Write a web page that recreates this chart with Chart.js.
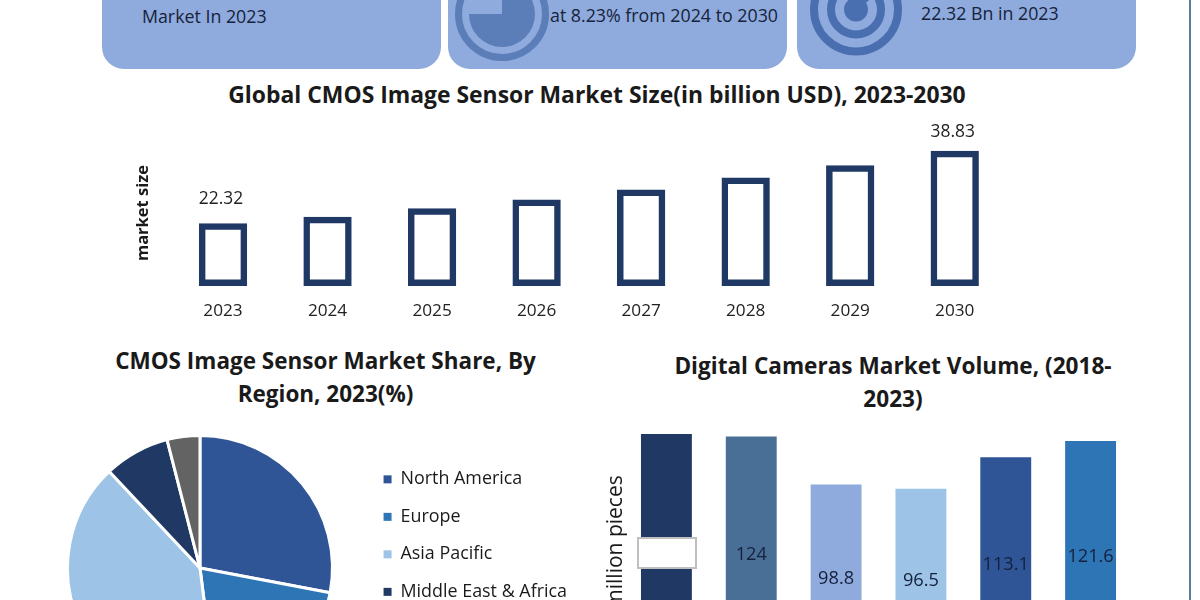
<!DOCTYPE html>
<html>
<head>
<meta charset="utf-8">
<title>CMOS Image Sensor Market</title>
<script src="https://cdn.jsdelivr.net/npm/chart.js@4"></script>
<style>
  html, body { margin: 0; width: 1200px; height: 600px; overflow: hidden; background: #fff; }
  body { position: relative; font-family: "Open Sans", sans-serif; color: #1a1a1a; }
  canvas { position: absolute; }
  .card { position: absolute; top: -40px; height: 109px; width: 339px; background: #8faadc; border-radius: 22px; }
  .cardText { position: absolute; font-size: 17.8px; line-height: 22px; white-space: nowrap; color: #16233b; }
  .heading { position: absolute; font-weight: 700; font-size: 22.5px; line-height: 33px; text-align: center; white-space: nowrap; color: #1a1a1a; }
  #hiddenValue { position: absolute; left: 637px; top: 537px; width: 56px; height: 28px; background: #fff; border: 2px solid #bfbfbf; }
  #edgeLine { position: absolute; left: 1189px; top: 0; width: 2px; height: 600px; background: #5a7ca3; }
  svg { position: absolute; left: 0; top: 0; }
</style>
</head>
<body>
<div class="card" style="left:102px"></div>
<div class="card" style="left:448px"></div>
<div class="card" style="left:797px"></div>
<div id="edgeLine"></div>
<svg width="1200" height="80">
  <circle cx="502" cy="14" r="43.5" fill="none" stroke="#5b7db8" stroke-width="7"/>
  <path d="M502 14 L502 -19 A33 33 0 1 1 469 14 Z" fill="#5b7db8"/>
  <circle cx="856" cy="9.5" r="42" fill="none" stroke="#4a6fb0" stroke-width="8"/>
  <circle cx="856" cy="9.5" r="25" fill="none" stroke="#4a6fb0" stroke-width="8"/>
  <line x1="866" y1="1" x2="892" y2="-22" stroke="#8faadc" stroke-width="9"/>
  <line x1="860" y1="6" x2="892" y2="-22" stroke="#4a6fb0" stroke-width="3"/>
  <circle cx="856" cy="9.5" r="12" fill="#4a6fb0"/>
</svg>
<div class="cardText" style="left:142px;top:5px">Market In 2023</div>
<div class="cardText" style="left:550px;top:4px">at 8.23% from 2024 to 2030</div>
<div class="cardText" style="left:921px;top:2px">22.32 Bn in 2023</div>

<div class="heading" style="left:0;width:1194px;top:78px;font-size:22.9px">Global CMOS Image Sensor Market Size(in billion USD), 2023-2030</div>
<div class="heading" style="left:0;width:651px;top:344px">CMOS Image Sensor Market Share, By<br>Region, 2023(%)</div>
<div class="heading" style="left:593px;width:600px;top:349px;font-size:22.6px">Digital Cameras Market Volume, (2018-<br>2023)</div>

<canvas id="marketChart" width="877" height="210" style="left:130px;top:120px"></canvas>
<canvas id="regionChart" width="541" height="268" style="left:36px;top:434px"></canvas>
<canvas id="volumeChart" width="533" height="262" style="left:600px;top:411px"></canvas>
<div id="hiddenValue"></div>

<script>
const marketYears = ['2023', '2024', '2025', '2026', '2027', '2028', '2029', '2030'];
const marketSize = [22.32, 23.8, 25.7, 27.7, 30.0, 32.7, 35.5, 38.83];
const marketLabels = ['22.32', '', '', '', '', '', '', '38.83'];
const marketFloor = 8;

const regions = ['North America', 'Europe', 'Asia Pacific', 'Middle East & Africa', 'South America'];
const regionShare = [28, 20, 40, 8, 4];
const regionColors = ['#2f5597', '#2e75b6', '#9dc3e6', '#1f3864', '#636363'];

const volumeYears = ['2018', '2019', '2020', '2021', '2022', '2023'];
const volumePieces = [125.2, 124, 98.8, 96.5, 113.1, 121.6];
const volumeLabels = ['', '124', '98.8', '96.5', '113.1', '121.6'];
const volumeColors = ['#1f3864', '#4a6f96', '#8faadc', '#9dc3e6', '#2f5597', '#2e75b6'];

const textFont = '"Open Sans", sans-serif';

// draws the few value labels the picture shows, next to the bars
const barLabels = {
    id: 'barLabels',
    afterDatasetsDraw(chart, args, opts) {
        const ctx = chart.ctx;
        ctx.save();
        ctx.font = `${opts.size}px ${textFont}`;
        ctx.fillStyle = opts.color;
        ctx.textAlign = 'center';
        ctx.textBaseline = 'middle';
        chart.getDatasetMeta(0).data.forEach((bar, i) => {
            if (!opts.labels[i]) return;
            const y = opts.centered ? (bar.y + bar.base) / 2 : bar.y - (i === 0 ? 24 : 18.5);
            ctx.fillText(opts.labels[i], bar.x + (opts.centered ? 0 : -2), y);
        });
        ctx.restore();
    }
};

new Chart(document.getElementById('marketChart'), {
    type: 'bar',
    data: {
        labels: marketYears,
        datasets: [{
            data: marketSize,
            base: marketFloor,
            backgroundColor: 'transparent',
            borderColor: '#1f3864',
            borderWidth: 6.5,
            borderSkipped: false,
            barPercentage: 0.462,
            categoryPercentage: 1
        }]
    },
    options: {
        responsive: false,
        animation: false,
        layout: { padding: { top: 20 } },
        plugins: {
            legend: { display: false },
            tooltip: { enabled: false },
            barLabels: { labels: marketLabels, size: 17.4, color: '#222', centered: false }
        },
        scales: {
            x: {
                grid: { display: false },
                border: { display: false },
                ticks: { color: '#222', font: { family: textFont, size: 17.2 }, padding: 7, maxRotation: 0 },
                afterFit: scale => { scale.height = 44; }
            },
            y: {
                min: marketFloor,
                max: 41.26,
                grid: { display: false },
                border: { display: false },
                ticks: { display: false },
                title: { display: true, text: 'market size', color: '#1a1a1a', font: { family: textFont, size: 16.5, weight: 'bold' }, padding: { top: 3.5, bottom: 0 } },
                afterFit: scale => { scale.width = 40.75; }
            }
        }
    },
    plugins: [barLabels]
});

new Chart(document.getElementById('regionChart'), {
    type: 'pie',
    data: {
        labels: regions,
        datasets: [{
            data: regionShare,
            backgroundColor: regionColors,
            borderColor: '#fff',
            borderWidth: 3
        }]
    },
    options: {
        responsive: false,
        animation: false,
        plugins: {
            tooltip: { enabled: false },
            legend: {
                position: 'right',
                align: 'start',
                title: { display: true, text: ' ', font: { size: 4 }, padding: 6 },
                labels: {
                    color: '#1a1a1a',
                    font: { family: textFont, size: 17.9 },
                    boxWidth: 8,
                    boxHeight: 8,
                    padding: 19.6,
                    generateLabels: chart => Chart.overrides.pie.plugins.legend.labels.generateLabels(chart)
                        .map(item => ({ ...item, lineWidth: 0 }))
                }
            }
        }
    }
});

new Chart(document.getElementById('volumeChart'), {
    type: 'bar',
    data: {
        labels: volumeYears,
        datasets: [{
            data: volumePieces,
            backgroundColor: volumeColors,
            barPercentage: 0.6,
            categoryPercentage: 1
        }]
    },
    options: {
        responsive: false,
        animation: false,
        plugins: {
            legend: { display: false },
            tooltip: { enabled: false },
            barLabels: { labels: volumeLabels, size: 18.2, color: '#14213d', centered: true }
        },
        scales: {
            x: { display: false },
            y: {
                min: 0,
                max: 137.3,
                grid: { display: false },
                border: { display: false },
                ticks: { display: false },
                title: { display: true, text: 'million pieces', color: '#1a1a1a', font: { family: textFont, size: 21 }, padding: { top: 3, bottom: 0 } },
                afterFit: scale => { scale.width = 24; }
            }
        }
    },
    plugins: [barLabels]
});
</script>
</body>
</html>
